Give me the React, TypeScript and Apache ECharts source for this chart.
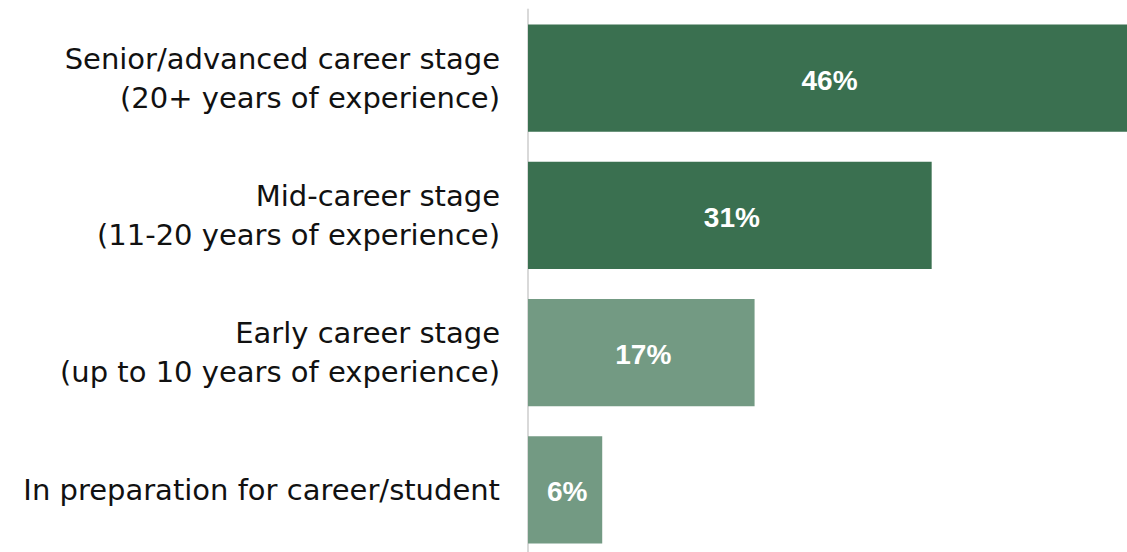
import React, { useEffect, useRef } from "react";
import * as echarts from "echarts";

const categories = [
  "Senior/advanced career stage\n(20+ years of experience)",
  "Mid-career stage\n(11-20 years of experience)",
  "Early career stage\n(up to 10 years of experience)",
  "In preparation for career/student",
];
const values = [46, 31, 17.4, 5.7];
const labels = ["46%", "31%", "17%", "6%"];

const DARK = "#3A7050";
const LIGHT = "#739A83";
const barColors = [DARK, DARK, LIGHT, LIGHT];

export default function App() {
  const ref = useRef<HTMLDivElement>(null);
  useEffect(() => {
    if (!ref.current) return;
    const chart = echarts.init(ref.current, undefined, { renderer: "svg" });
    chart.setOption({
      animation: false,
      grid: {
        left: 528,
        right: 0,
        top: 9.5,
        bottom: -6.5,
        containLabel: false,
        outerBoundsMode: "none",
      },
      xAxis: {
        type: "value",
        min: 0,
        max: 46,
        show: false,
      },
      yAxis: {
        type: "category",
        inverse: true,
        data: categories,
        axisLine: { show: true, lineStyle: { color: "#D9D9D9", width: 2 } },
        axisTick: { show: false },
        axisLabel: {
          margin: 28,
          color: "#111111",
          fontFamily: "DejaVu Sans",
          fontSize: 29,
          lineHeight: 39,
          align: "right",
        },
      },
      series: [
        {
          type: "bar",
          barCategoryGap: "21.7%",
          data: values.map((v, i) => ({
            value: v,
            itemStyle: { color: barColors[i] },
          })),
          label: {
            show: true,
            position: "inside",
            offset: [2, 2],
            color: "#ffffff",
            fontFamily: "Liberation Sans, Arial, sans-serif",
            fontWeight: "bold",
            fontSize: 28,
            formatter: (p: any) => labels[p.dataIndex],
          },
        },
      ],
    });
    return () => chart.dispose();
  }, []);
  return (
    <div
      ref={ref}
      style={{ position: "fixed", left: 0, top: 0, width: 1127, height: 552, background: "#fff" }}
    />
  );
}
